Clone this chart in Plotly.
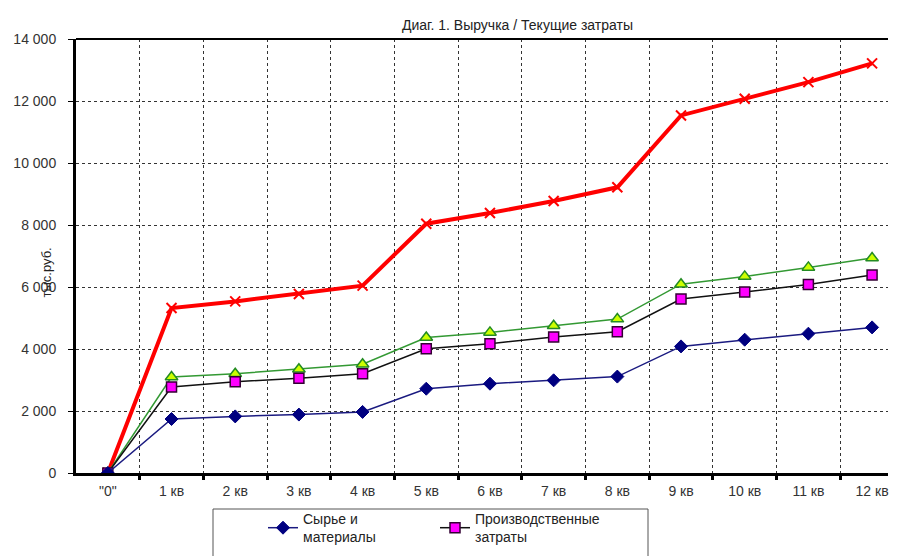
import plotly.graph_objects as go

categories = ['"0"', '1 кв', '2 кв', '3 кв', '4 кв', '5 кв', '6 кв', '7 кв', '8 кв', '9 кв', '10 кв', '11 кв', '12 кв']
syrie = [0, 1742, 1826, 1885, 1970, 2719, 2881, 2990, 3110, 4084, 4300, 4494, 4697]
proizv = [0, 2774, 2945, 3060, 3205, 4010, 4171, 4390, 4560, 5613, 5839, 6084, 6387]
tekushie = [0, 3097, 3203, 3345, 3510, 4370, 4535, 4752, 4965, 6090, 6342, 6632, 6935]
vyruchka = [0, 5320, 5535, 5774, 6045, 8042, 8387, 8774, 9215, 11535, 12074, 12610, 13213]
y_ticks = [0, 2000, 4000, 6000, 8000, 10000, 12000, 14000]
y_tick_labels = ["0", "2 000", "4 000", "6 000", "8 000", "10 000", "12 000", "14 000"]

W, H = 898, 556
L, R, T, B = 76, 10, 39, 83
pw = W - L - R
ph = H - T - B

def px_x(x):
    return (x - L) / pw

def px_y(y):
    return (H - B - y) / ph

xs = list(range(len(categories)))
font = "Liberation Sans, Arial, sans-serif"

fig = go.Figure()
fig.add_trace(go.Scatter(
    x=xs, y=vyruchka, name="Выручка", mode="lines+markers",
    line=dict(color="#ff0000", width=4),
    marker=dict(symbol="x-thin", size=10, line=dict(color="#ff0000", width=2)),
    showlegend=False))
fig.add_trace(go.Scatter(
    x=xs, y=tekushie, name="Текущие затраты", mode="lines+markers",
    line=dict(color="#339933", width=1.5),
    marker=dict(symbol="triangle-up", size=11, color="#ccff00", line=dict(color="#238b23", width=1.5)),
    showlegend=False))
fig.add_trace(go.Scatter(
    x=xs, y=proizv, name="Производственные<br>затраты", mode="lines+markers",
    line=dict(color="#111111", width=1.5),
    marker=dict(symbol="square", size=10, color="#ff00ff", line=dict(color="#330033", width=1.5))))
fig.add_trace(go.Scatter(
    x=xs, y=syrie, name="Сырье и<br>материалы", mode="lines+markers",
    line=dict(color="#1a1a80", width=1.5),
    marker=dict(symbol="diamond", size=10, color="#000080", line=dict(color="#000080", width=1))))

fig.update_layout(
    width=W, height=H,
    margin=dict(l=L, r=R, t=T, b=B, autoexpand=False),
    paper_bgcolor="white", plot_bgcolor="white",
    font=dict(family=font, size=12, color="#222222"),
    xaxis=dict(
        range=[-0.5, 12.25], tickmode="array", tickvals=xs, ticktext=categories,
        showgrid=False, ticks="", zeroline=False,
        showline=True, linecolor="black", linewidth=3,
        tickfont=dict(size=14, color="#333333"), ticklabelstandoff=3,
        minor=dict(tickmode="array", tickvals=[i + 0.5 for i in range(12)],
                   showgrid=True, griddash="dot", gridcolor="#333333", gridwidth=1,
                   ticks="outside", ticklen=4, tickwidth=3, tickcolor="black"),
    ),
    yaxis=dict(
        range=[0, 14000], tickmode="array", tickvals=y_ticks, ticktext=y_tick_labels,
        showgrid=True, griddash="dot", gridcolor="#333333", gridwidth=1,
        zeroline=False, showline=True, linecolor="black", linewidth=3,
        ticks="outside", ticklen=5, tickcolor="black", tickwidth=1,
        tickfont=dict(size=14, color="#333333"), ticklabelstandoff=9,
    ),
    legend=dict(
        orientation="h", x=px_x(263), y=px_y(503), xanchor="left", yanchor="top",
        font=dict(size=14, color="#222222"), traceorder="reversed",
        entrywidth=127, bgcolor="rgba(0,0,0,0)", borderwidth=0,
    ),
    showlegend=True,
)

fig.add_shape(type="line", xref="paper", yref="paper", x0=0, x1=1, y0=1, y1=1,
              line=dict(color="black", width=2))
fig.add_shape(type="rect", xref="paper", yref="paper",
              x0=px_x(213), x1=px_x(648), y0=px_y(509), y1=px_y(600),
              line=dict(color="#555555", width=1), fillcolor="rgba(0,0,0,0)", layer="below")

fig.add_annotation(text="Диаг. 1. Выручка / Текущие затраты", xref="paper", yref="paper",
                   x=px_x(517), y=px_y(15), showarrow=False,
                   font=dict(size=14, color="#222222", family=font))
fig.add_annotation(text="тыс.руб.", xref="paper", yref="paper",
                   x=px_x(36), y=px_y(273), showarrow=False, textangle=-90,
                   font=dict(size=13, color="#222222", family=font))

fig.write_html("out.html")
